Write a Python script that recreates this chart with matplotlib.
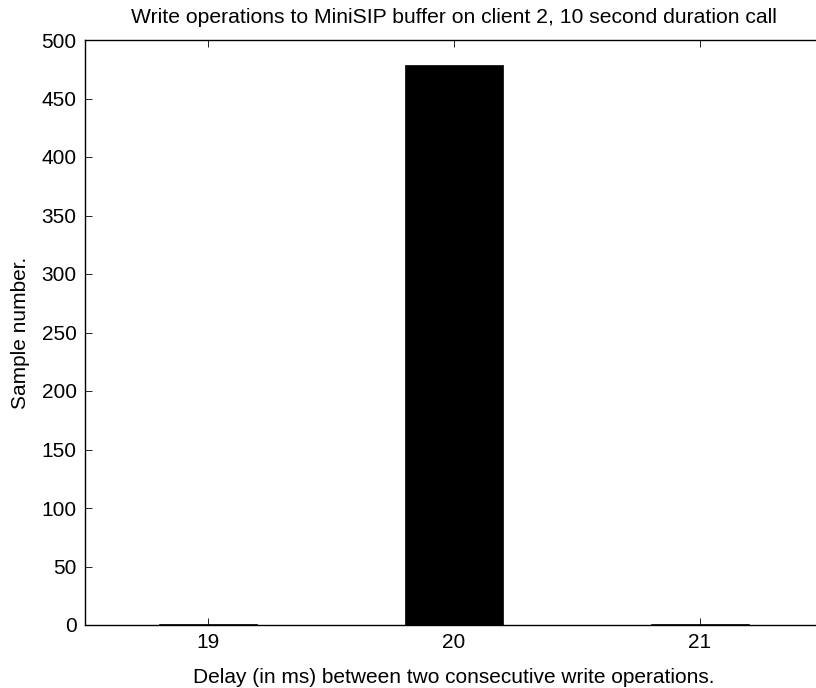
import matplotlib
matplotlib.use("Agg")
import matplotlib.pyplot as plt

plt.rcParams['font.family'] = ['Liberation Sans', 'DejaVu Sans']

delays = [19, 20, 21]
counts = [1, 479, 1]
xticks = [19, 20, 21]
yticks = list(range(0, 501, 50))

fig = plt.figure(figsize=(8.16, 6.88), dpi=100)
ax = fig.add_axes([85/816, 1-625/688, (823-85)/816, (625-40)/688])
ax.bar(delays, counts, width=0.4, color='black', edgecolor='black', linewidth=0.5)
ax.set_xlim(18.5, 21.5)
ax.set_ylim(0, 500)
ax.set_xticks(xticks)
ax.set_yticks(yticks)
ax.tick_params(direction='in', top=True, right=True, labelsize=15, length=5, width=0.6, pad=6)
for s in ax.spines.values():
    s.set_linewidth(1.0)
ax.set_title('Write operations to MiniSIP buffer on client 2, 10 second duration call', fontsize=15.2, pad=12)
ax.set_xlabel('Delay (in ms) between two consecutive write operations.', fontsize=15, labelpad=11)
ax.set_ylabel('Sample number.', fontsize=15, labelpad=8)
fig.savefig('out.png', dpi=100)
